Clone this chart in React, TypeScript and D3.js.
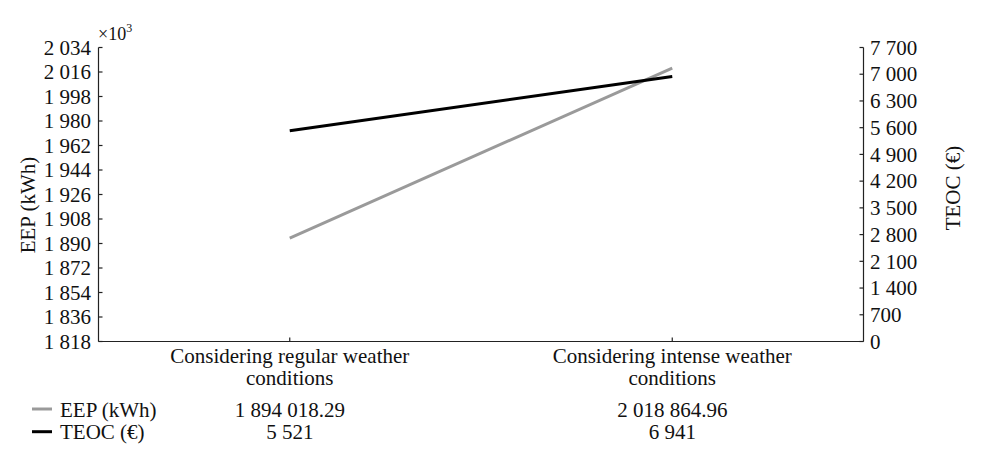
import React from "react";
import * as d3 from "d3";

const categories = ["Considering regular weather conditions", "Considering intense weather conditions"];
const categoryLines = [["Considering regular weather", "conditions"], ["Considering intense weather", "conditions"]];
const eepValues = [1894018.29, 2018864.96];
const teocValues = [5521, 6941];
const leftTicks = [1818, 1836, 1854, 1872, 1890, 1908, 1926, 1944, 1962, 1980, 1998, 2016, 2034];
const rightTicks = [0, 700, 1400, 2100, 2800, 3500, 4200, 4900, 5600, 6300, 7000, 7700];
const seriesNames = ["EEP (kWh)", "TEOC (€)"];
const seriesColors = ["#9a9a9a", "#000000"];

const W = 981, H = 454;
const left = 98.5, right = 863.5, top = 47.5, bottom = 341.5;
const FONT = '"Liberation Serif", "DejaVu Serif", serif';
const FS = 21;

const loc = d3.formatLocale({ decimal: ".", thousands: " ", grouping: [3], currency: ["", ""] });
const fInt = loc.format(",d");
const f2 = loc.format(",.2f");

export default function App() {
  const x = d3.scalePoint<string>().domain(categories).range([left, right]).padding(0.5);
  const yL = d3.scaleLinear().domain([1818, 2034]).range([bottom, top]);
  const yR = d3.scaleLinear().domain([0, 7700]).range([bottom, top]);
  const lineL = d3.line<number>().x((_, i) => x(categories[i])!).y((d) => yL(d / 1000));
  const lineR = d3.line<number>().x((_, i) => x(categories[i])!).y((d) => yR(d));
  const axisColor = "#222";
  return (
    <svg width={W} height={H} style={{ position: "absolute", left: 0, top: 0, background: "#fff", fontFamily: FONT, fontSize: FS }}>
      {/* left axis */}
      <line x1={left} x2={left} y1={top} y2={bottom} stroke={axisColor} strokeWidth={1.2} />
      {leftTicks.map((t) => (
        <g key={"l" + t}>
          <line x1={left} x2={left + 4} y1={yL(t)} y2={yL(t)} stroke={axisColor} strokeWidth={1.2} />
          <text x={left - 7.5} y={yL(t) + 7.2} textAnchor="end" fill="#111">{fInt(t)}</text>
        </g>
      ))}
      <text x={98} y={40} fill="#111" style={{ fontSize: 18 }}>×10<tspan dy={-8} style={{ fontSize: 12 }}>3</tspan></text>
      <text transform={`translate(35,205) rotate(-90)`} textAnchor="middle" fill="#111">EEP (kWh)</text>
      {/* right axis */}
      <line x1={right} x2={right} y1={top} y2={bottom} stroke={axisColor} strokeWidth={1.2} />
      {rightTicks.map((t) => (
        <g key={"r" + t}>
          <line x1={right - 4} x2={right} y1={yR(t)} y2={yR(t)} stroke={axisColor} strokeWidth={1.2} />
          <text x={right + 6.5} y={yR(t) + 7.2} textAnchor="start" fill="#111">{fInt(t)}</text>
        </g>
      ))}
      <text transform={`translate(960,188) rotate(-90)`} textAnchor="middle" fill="#111">TEOC (€)</text>
      {/* bottom axis */}
      <line x1={left} x2={right} y1={bottom} y2={bottom} stroke={axisColor} strokeWidth={1.2} />
      {categories.map((c, i) => (
        <g key={c}>
          <line x1={x(c)!} x2={x(c)!} y1={bottom} y2={bottom - 4} stroke={axisColor} strokeWidth={1.2} />
          {categoryLines[i].map((s, j) => (
            <text key={j} x={x(c)!} y={363 + j * 22.3} textAnchor="middle" fill="#111">{s}</text>
          ))}
          <text x={x(c)!} y={416.5} textAnchor="middle" fill="#111">{f2(eepValues[i])}</text>
          <text x={x(c)!} y={439} textAnchor="middle" fill="#111">{fInt(teocValues[i])}</text>
        </g>
      ))}
      {/* lines */}
      <path d={lineL(eepValues)!} fill="none" stroke={seriesColors[0]} strokeWidth={3} />
      <path d={lineR(teocValues)!} fill="none" stroke={seriesColors[1]} strokeWidth={3} />
      {/* legend */}
      {seriesNames.map((n, i) => (
        <g key={n}>
          <line x1={32} x2={52} y1={409 + i * 22.7} y2={409 + i * 22.7} stroke={seriesColors[i]} strokeWidth={3} />
          <text x={60} y={416.5 + i * 22.5} fill="#111">{n}</text>
        </g>
      ))}
    </svg>
  );
}
